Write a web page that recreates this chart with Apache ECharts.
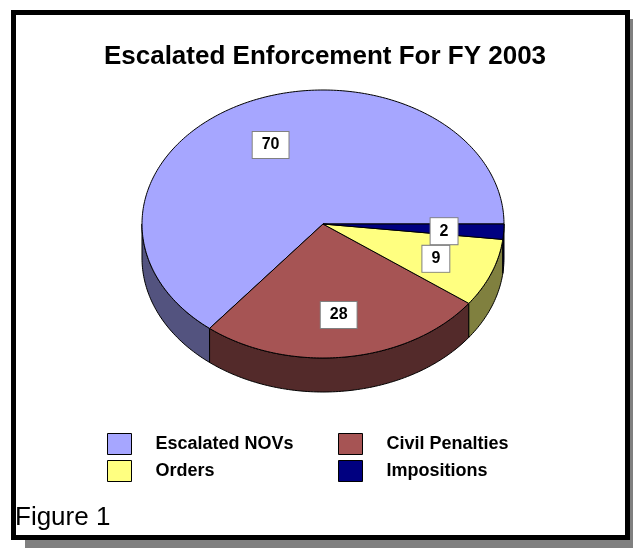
<!DOCTYPE html>
<html lang="en">
<head>
<meta charset="UTF-8">
<title>Escalated Enforcement For FY 2003</title>
<script src="https://cdn.jsdelivr.net/npm/echarts@6/dist/echarts.min.js"></script>
<style>
    html, body { margin: 0; padding: 0; background: #fff; }
    #chart { width: 633px; height: 548px; }
</style>
</head>
<body>
<div id="chart"></div>
<script>
// data
var categories = ['Escalated NOVs', 'Civil Penalties', 'Orders', 'Impositions'];
var values = [70, 28, 9, 2];

// colours: top face / side wall
var topColors = ['#a6a6ff', '#a65454', '#ffff80', '#000080'];
var sideColors = ['#53537f', '#532a2a', '#80803f', '#000040'];

var FONT = '"Liberation Sans", Arial, sans-serif';

var chart = echarts.init(document.getElementById('chart'));

// ellipse geometry of the tilted pie
var cx = 323, cy = 224, rx = 181, ry = 134, depth = 34;
var total = values.reduce(function (a, b) { return a + b; }, 0);

function pt(deg, dy) {
    var r = deg * Math.PI / 180;
    return [cx + rx * Math.cos(r), cy + ry * Math.sin(r) + (dy || 0)];
}

function arcPts(a0, a1, dy) {
    var pts = [], n = Math.max(2, Math.ceil(Math.abs(a1 - a0)));
    for (var k = 0; k <= n; k++) pts.push(pt(a0 + (a1 - a0) * k / n, dy));
    return pts;
}

function renderSlice(params, api) {
    var i = params.dataIndex;
    var before = 0;
    for (var k = 0; k < i; k++) before += values[k];
    var v = api.value(0);
    // slices run counter-clockwise from 3 o'clock
    var end = -before / total * 360;
    var start = end - v / total * 360;
    var shift = Math.floor(start / 360) * 360;
    var s = start - shift, e = end - shift;
    var children = [];

    // visible outer wall = lower half of ellipse
    [[0, 180], [360, 540]].forEach(function (w) {
        var lo = Math.max(s, w[0]), hi = Math.min(e, w[1]);
        if (hi > lo) {
            var pts = arcPts(lo, hi, 0).concat(arcPts(hi, lo, depth));
            children.push({
                type: 'polygon', z2: 5,
                shape: { points: pts },
                style: { fill: sideColors[i], stroke: '#000', lineWidth: 1 }
            });
        }
    });

    // top face
    children.push({
        type: 'polygon', z2: 10,
        shape: { points: [[cx, cy]].concat(arcPts(s, e, 0)) },
        style: { fill: topColors[i], stroke: '#000', lineWidth: 1 }
    });

    // value label
    var mid = (s + e) / 2 * Math.PI / 180;
    children.push({
        type: 'text', z2: 20,
        x: cx + rx * 0.67 * Math.cos(mid),
        y: cy + ry * 0.67 * Math.sin(mid) + 2,
        style: {
            text: String(v),
            font: 'bold 16px ' + FONT,
            fill: '#000',
            align: 'center',
            verticalAlign: 'middle',
            backgroundColor: '#fff',
            borderColor: '#808080',
            borderWidth: 1,
            padding: [5, 9]
        }
    });

    return { type: 'group', children: children };
}

var legendCommon = {
    orient: 'vertical',
    top: 428,
    itemWidth: 24,
    itemHeight: 21,
    itemGap: 5,
    icon: 'rect',
    selectedMode: false,
    itemStyle: { borderColor: '#000', borderWidth: 1 },
    textStyle: { fontSize: 18, fontWeight: 'bold', color: '#000', fontFamily: FONT, padding: [0, 0, 0, 19] }
};

var option = {
    backgroundColor: '#fff',
    animation: false,
    title: {
        text: 'Escalated Enforcement For FY 2003',
        left: 320,
        textAlign: 'center',
        top: 39,
        textStyle: { fontSize: 26, fontWeight: 'bold', color: '#000', fontFamily: FONT }
    },
    legend: [
        Object.assign({ left: 102, data: ['Escalated NOVs', 'Orders'] }, legendCommon),
        Object.assign({ left: 333, data: ['Civil Penalties', 'Impositions'] }, legendCommon)
    ],
    graphic: [
        { type: 'rect', silent: true, shape: { x: 25, y: 19, width: 620, height: 540 }, style: { fill: '#808080' } },
        { type: 'rect', silent: true, shape: { x: 13.5, y: 12.5, width: 614, height: 525 }, style: { fill: '#fff', stroke: '#000', lineWidth: 5 } },
        { type: 'text', silent: true, x: 15, y: 518, style: { text: 'Figure 1', font: '26px ' + FONT, fill: '#000', verticalAlign: 'middle' } }
    ],
    series: [
        {
            // hidden pie only feeds the legend
            type: 'pie',
            z: 1,
            silent: true,
            radius: [0, 0],
            center: [cx, cy],
            label: { show: false },
            labelLine: { show: false },
            itemStyle: { borderWidth: 0 },
            data: categories.map(function (c, i) {
                return { name: c, value: values[i], itemStyle: { color: topColors[i] } };
            })
        },
        {
            type: 'custom',
            coordinateSystem: 'none',
            silent: true,
            renderItem: renderSlice,
            data: values
        }
    ]
};

chart.setOption(option);
</script>
</body>
</html>
